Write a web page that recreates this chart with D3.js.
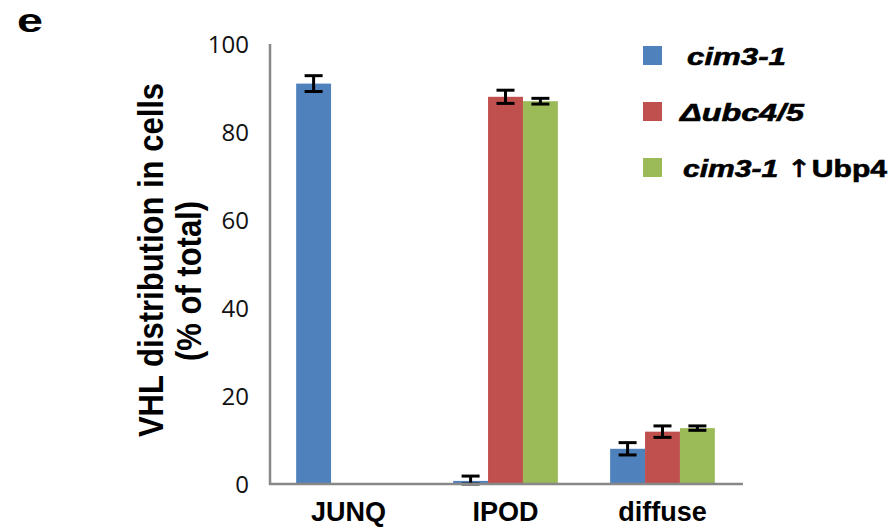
<!DOCTYPE html>
<html lang="en">
<head>
<meta charset="UTF-8">
<title>VHL distribution</title>
<script src="https://d3js.org/d3.v7.min.js"></script>
<style>
    body { margin: 0; background: #fff; }
    svg { display: block; }
    .tick-label { font-family: "Open Sans", sans-serif; font-size: 24px; fill: #111; }
    .bold { font-family: "Liberation Sans", Arial, sans-serif; font-weight: bold; fill: #000; }
</style>
</head>
<body>
<script>
    const categories = ["JUNQ", "IPOD", "diffuse"];
    const seriesNames = ["cim3-1", "Δubc4/5", "cim3-1 ↑Ubp4"];
    const seriesColors = ["#4F81BD", "#C0504D", "#9BBB59"];
    // values per series, in category order
    const cim31 = [91.0, 0.7, 8.0];
    const ubc45 = [0, 88.0, 11.9];
    const cim31Ubp4 = [0, 87.0, 12.7];
    // error bar half-widths
    const cim31Err = [1.8, 1.1, 1.4];
    const ubc45Err = [0, 1.5, 1.3];
    const cim31Ubp4Err = [0, 0.65, 0.5];
    const yTicks = [0, 20, 40, 60, 80, 100];

    const values = [cim31, ubc45, cim31Ubp4];
    const errors = [cim31Err, ubc45Err, cim31Ubp4Err];

    const width = 888, height = 528;
    const svg = d3.select("body").append("svg")
        .attr("width", width)
        .attr("height", height);

    const x = d3.scaleBand()
        .domain(categories)
        .range([270, 741])
        .paddingInner(0.333)
        .paddingOuter(0.1666);

    const xs = d3.scaleBand()
        .domain(d3.range(seriesNames.length))
        .range([0, x.bandwidth()]);

    const y = d3.scaleLinear().domain([0, 100]).range([484, 44]);

    // flatten into bar records
    const bars = [];
    categories.forEach((c, ci) => {
        values.forEach((s, si) => {
            bars.push({ cat: c, series: si, value: s[ci], err: errors[si][ci] });
        });
    });

    svg.append("g")
        .selectAll("rect")
        .data(bars.filter(d => d.value > 0))
        .join("rect")
        .attr("x", d => x(d.cat) + xs(d.series))
        .attr("y", d => y(d.value))
        .attr("width", xs.bandwidth())
        .attr("height", d => y(0) - y(d.value))
        .attr("fill", d => seriesColors[d.series]);

    // error bars
    const eb = svg.append("g")
        .attr("stroke", "#000")
        .attr("stroke-width", 3)
        .selectAll("g")
        .data(bars.filter(d => d.err > 0))
        .join("g")
        .attr("transform", d => `translate(${x(d.cat) + xs(d.series) + xs.bandwidth() / 2},0)`);
    eb.append("line")
        .attr("y1", d => y(d.value + d.err))
        .attr("y2", d => y(Math.max(0, d.value - d.err)));
    eb.append("line").attr("x1", -9).attr("x2", 9)
        .attr("y1", d => y(d.value + d.err)).attr("y2", d => y(d.value + d.err));
    eb.append("line").attr("x1", -9).attr("x2", 9)
        .attr("y1", d => y(Math.max(0, d.value - d.err))).attr("y2", d => y(Math.max(0, d.value - d.err)));

    // axes lines
    svg.append("line")
        .attr("x1", 270).attr("x2", 270)
        .attr("y1", y(100)).attr("y2", y(0) + 1)
        .attr("stroke", "#888").attr("stroke-width", 2.5);
    svg.append("line")
        .attr("x1", 269).attr("x2", 743)
        .attr("y1", y(0)).attr("y2", y(0))
        .attr("stroke", "#888").attr("stroke-width", 2.5);

    // y tick labels
    svg.append("g")
        .selectAll("text")
        .data(yTicks)
        .join("text")
        .attr("class", "tick-label")
        .attr("x", 249)
        .attr("y", d => y(d) + 9)
        .attr("text-anchor", "end")
        .text(d => d);

    // x labels
    svg.append("g")
        .selectAll("text")
        .data(categories)
        .join("text")
        .attr("class", "bold")
        .attr("font-size", 27)
        .attr("x", d => x(d) + x.bandwidth() / 2)
        .attr("y", 521)
        .attr("text-anchor", "middle")
        .text(d => d);

    // y title (glyphs a bit wider across, as in the reference)
    svg.append("text")
        .attr("class", "bold")
        .attr("font-size", 31)
        .attr("text-anchor", "middle")
        .attr("transform", "translate(163,260) rotate(-90) scale(1,1.12)")
        .text("VHL distribution in cells");
    svg.append("text")
        .attr("class", "bold")
        .attr("font-size", 31)
        .attr("text-anchor", "middle")
        .attr("transform", "translate(201,281) rotate(-90) scale(1,1.12)")
        .text("(% of total)");

    // panel letter
    svg.append("text")
        .attr("class", "bold")
        .attr("font-size", 33)
        .attr("x", 17).attr("y", 32)
        .attr("textLength", 26)
        .attr("lengthAdjust", "spacingAndGlyphs")
        .text("e");

    // legend
    const legTop = 46, legStep = 56;
    const leg = svg.append("g");
    seriesNames.forEach((name, i) => {
        leg.append("rect")
            .attr("x", 643).attr("y", legTop + i * legStep)
            .attr("width", 19).attr("height", 19)
            .attr("fill", seriesColors[i]);
    });
    const legText = (i, xPos, len) => leg.append("text")
        .attr("class", "bold")
        .attr("font-size", 24)
        .attr("stroke", "#000")
        .attr("stroke-width", 0.6)
        .attr("x", xPos)
        .attr("y", legTop + i * legStep + 19)
        .attr("textLength", len)
        .attr("lengthAdjust", "spacingAndGlyphs");
    legText(0, 687, 99).attr("font-style", "italic").text(seriesNames[0]);
    legText(1, 680, 124).attr("font-style", "italic").text(seriesNames[1]);
    const t3 = legText(2, 683, 204);
    t3.append("tspan").attr("font-style", "italic").text("cim3-1 ");
    t3.append("tspan").attr("font-weight", "normal").attr("font-family", "DejaVu Sans").text("↑");
    t3.append("tspan").text("Ubp4");
</script>
</body>
</html>
